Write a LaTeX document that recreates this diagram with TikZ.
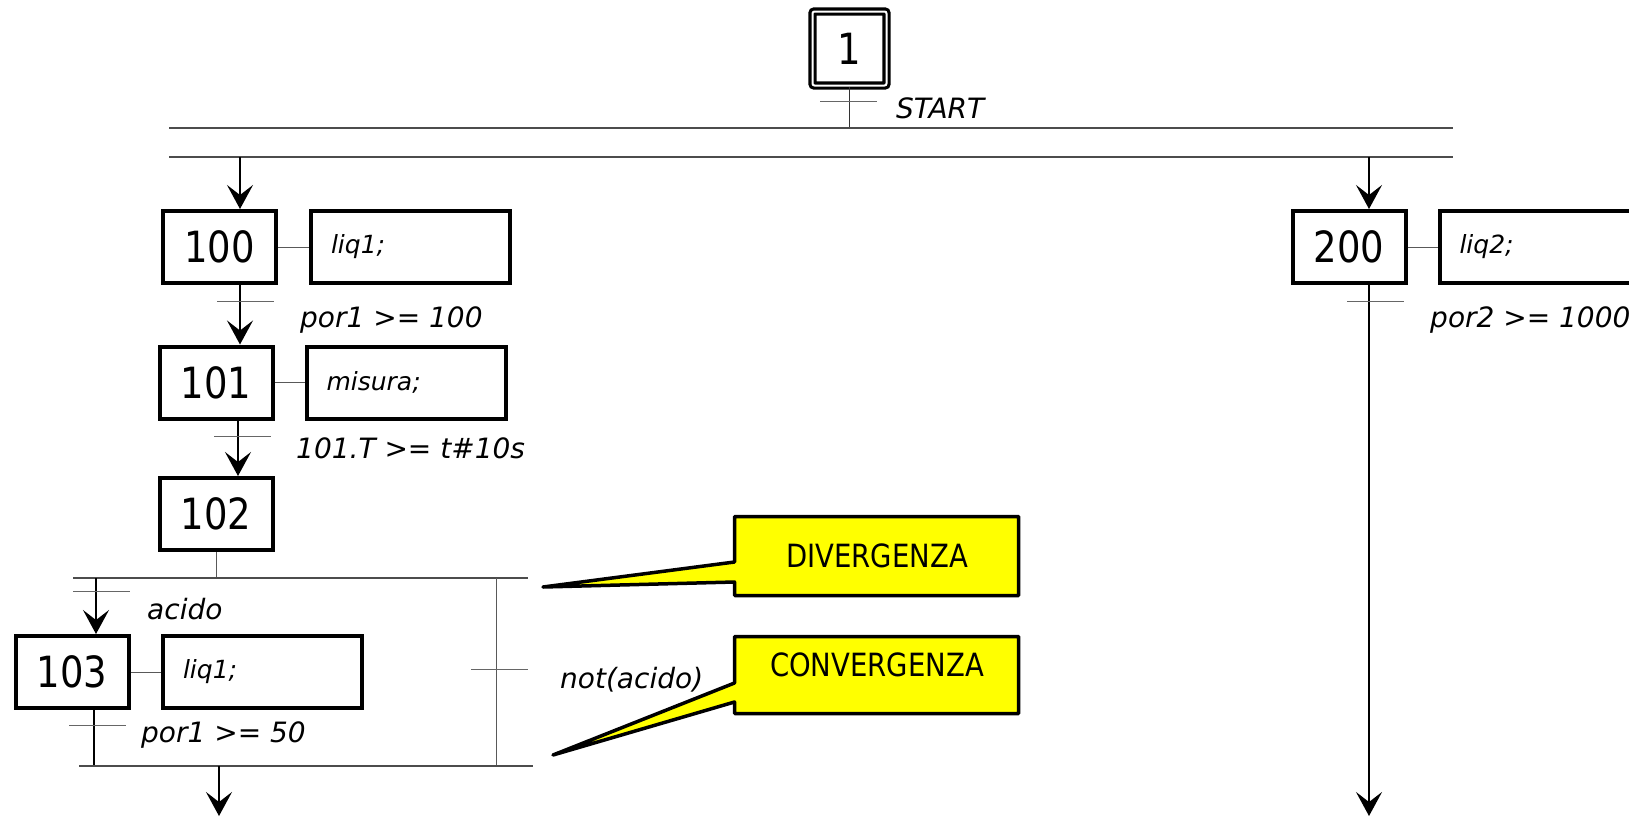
\documentclass[tikz,border=0pt]{standalone}
\usepackage{fontspec}
\setmainfont{DejaVu Sans}
\newfontfamily\tahfont{DejaVu Sans}[FakeStretch=0.86]
\usetikzlibrary{arrows.meta}
\definecolor{callyellow}{RGB}{255,255,0}
\tikzset{
  stepbox/.style={draw, line width=4pt, minimum width=113pt, minimum height=72pt, inner sep=0pt,
    font=\tahfont\fontsize{43}{43}\selectfont},
  initstep/.style={draw, line width=3.2pt, double=white, double distance=2pt, rounded corners=2pt,
    minimum size=74pt, inner sep=0pt, font=\tahfont\fontsize{43}{43}\selectfont},
  actbox/.style={draw, line width=4pt, minimum width=199pt, minimum height=72pt, inner sep=0pt,
    inner xsep=20pt, text width=159pt, align=left, font=\itshape\fontsize{25}{25}\selectfont},
  lbl/.style={anchor=base west, inner sep=0pt, font=\itshape\fontsize{28}{28}\selectfont},
  thinln/.style={line width=1.6pt, draw=black},
  hline/.style={line width=1.3pt, draw=black!70},
  tick/.style={line width=1pt, draw=black!60},
  link/.style={line width=1pt, draw=black!65},
  arr/.style={thinln, -{Stealth[length=24pt,width=26pt,inset=10pt]}},
  callout/.style={draw=black, fill=callyellow, line width=3.5pt, line join=round},
  calltext/.style={font=\tahfont\fontsize{32}{32}\selectfont, inner sep=0pt}
}
\begin{document}
\begin{tikzpicture}[x=1pt,y=-1pt]
\useasboundingbox (0,0) rectangle (1629,819);
\clip (0,0) rectangle (1629,819);

% ---- initial step
\node[initstep] (s1) at (849.5,48.5) {1};
\coordinate (j0) at (849.5,128);
\draw[thinln, line width=1.2pt, draw=black!80] (s1.south) -- (j0);
\draw[tick] (820,101) -- (877,101);
\node[lbl] (tstart) at (896,118) {START};

% ---- simultaneous divergence (double line)
\coordinate (dA1) at (169,128); \coordinate (dB1) at (1453,128);
\coordinate (dA2) at (169,157); \coordinate (dB2) at (1453,157);
\draw[hline] (dA1) -- (dB1);
\draw[hline] (dA2) -- (dB2);

% ---- left sequence
\node[stepbox] (s100) at (219.5,247) {100};
\node[actbox]  (a100) at (410.5,247) {liq1;};
\draw[link] (s100) -- (a100);
\coordinate (j100) at (240,157);
\draw[arr] (j100) -- (j100 |- s100.north);

\node[stepbox] (s101) at (216,382.5) {101};
\node[actbox]  (a101) at (406,382.5) {misura;};
\draw[link] (s101) -- (a101);
\draw[arr] (s100.south -| j100) -- (s101.north -| j100);
\draw[tick] (217,301) -- (274,301);
\node[lbl] (c100) at (300,327) {por1 >= 100};

\node[stepbox] (s102) at (216,514) {102};
\coordinate (j101) at (238,420);
\draw[arr] (s101.south -| j101) -- (s102.north -| j101);
\draw[tick] (214,436) -- (271,436);
\node[lbl] (c101) at (296,458) {101.T >= t\#10s};

% ---- selective divergence
\coordinate (dv) at (216,578);
\draw[link] (s102.south) -- (dv);
\coordinate (dvL) at (73,578); \coordinate (dvR) at (528,578);
\draw[hline] (dvL) -- (dvR);

\node[stepbox] (s103) at (72,672) {103};
\node[actbox]  (a103) at (262.5,672) {liq1;};
\draw[link] (s103) -- (a103);
\coordinate (bl) at (96,578);
\draw[arr] (bl) -- (bl |- s103.north);
\draw[tick] (73,591) -- (130,591);
\node[lbl] (cac) at (147,619) {acido};

\coordinate (cvL) at (79,766); \coordinate (cvR) at (533,766);
\coordinate (bl2) at (94,766);
\draw[thinln, line width=1.2pt] (s103.south -| bl2) -- (bl2);
\draw[tick] (69,725) -- (126,725);
\node[lbl] (c103) at (141,742) {por1 >= 50};

\coordinate (brT) at (496,578); \coordinate (brB) at (496,766);
\draw[link] (brT) -- (brB);
\draw[tick] (471,669) -- (528,669);
\node[lbl] (cnac) at (560,688) {not(acido)};

\draw[hline] (cvL) -- (cvR);
\coordinate (cv) at (219,766); \coordinate (out1) at (219,816);
\draw[arr] (cv) -- (out1);

% ---- right sequence
\node[stepbox] (s200) at (1349,247) {200};
\node[actbox, minimum width=240pt, text width=200pt] (a200) at (1559.5,247) {liq2;};
\draw[link] (s200) -- (a200);
\coordinate (j200) at (1369,157);
\draw[arr] (j200) -- (j200 |- s200.north);
\coordinate (out2) at (1369,816);
\draw[arr] (s200.south -| out2) -- (out2);
\draw[tick] (1347,301) -- (1404,301);
\node[lbl] (c200) at (1430,327) {por2 >= 1000};

% ---- callouts
\draw[callout] (734.5,516.5) -- (1018.5,516.5) -- (1018.5,595.5) -- (734.5,595.5)
  -- (734.5,582) -- (543,587) -- (734.5,562) -- cycle;
\node[calltext] (tdiv) at (877,556) {DIVERGENZA};
\draw[callout] (734.5,636.5) -- (1018.5,636.5) -- (1018.5,713.5) -- (734.5,713.5)
  -- (734.5,702) -- (553,755) -- (734.5,683) -- cycle;
\node[calltext] (tconv) at (877,665) {CONVERGENZA};
\end{tikzpicture}
\end{document}
